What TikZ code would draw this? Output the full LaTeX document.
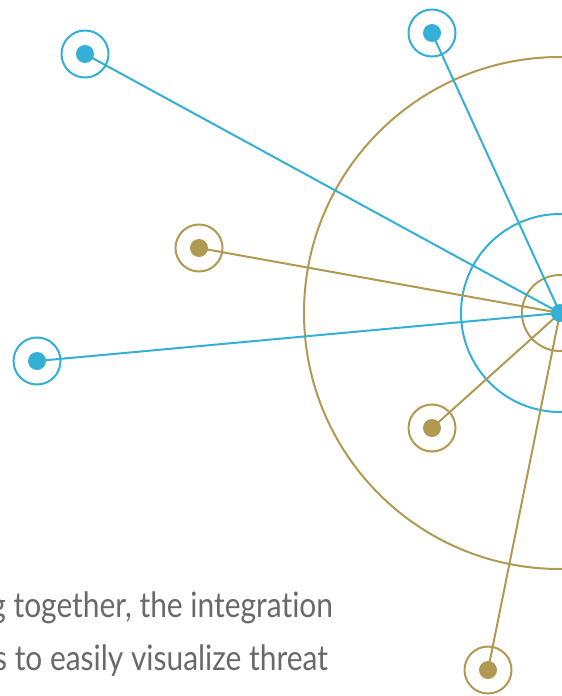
\documentclass[tikz,border=0pt]{standalone}
\usepackage{fontspec}
\setmainfont{Lato}
\newfontfamily\blurbfont[FakeStretch=0.855, Ligatures=NoCommon]{Lato}
\usepackage{tikz}

\definecolor{hubblue}{RGB}{52,176,214}
\definecolor{hubgold}{RGB}{176,154,82}
\definecolor{bodygray}{RGB}{105,105,105}

\begin{document}
\begin{tikzpicture}[x=1pt, y=-1pt, line width=2pt,
    dot/.style={circle, fill, inner sep=0pt, minimum size=18pt},
    ring/.style={circle, draw, fill=white, inner sep=0pt, minimum size=47pt},
    blurb/.style={anchor=base east, inner sep=0pt, text=bodygray, font=\blurbfont\fontsize{35}{40}\selectfont}]
\useasboundingbox (0,0) rectangle (562,696);
\clip (0,0) rectangle (562,696);

% Rings round the hub
\coordinate (c0) at (560,313);
\draw[hubgold] (c0) circle (256);
\draw[hubblue] (c0) circle (99);
\draw[hubgold] (c0) circle (38);

% Outer points: name/x/y/colour
\foreach \n/\x/\y/\c in {a/85/54/hubblue, b/432/33/hubblue, c/199/248/hubgold,
                          d/37/361/hubblue, e/432/428/hubgold, f/488/670/hubgold}
    \node[\c, ring] (r\n) at (\x,\y) {};

% Spokes from the hub
\foreach \n/\c in {a/hubblue, b/hubblue, c/hubgold, d/hubblue, e/hubgold, f/hubgold}
    \draw[\c] (c0) -- (r\n.center);

\foreach \n/\c in {a/hubblue, b/hubblue, c/hubgold, d/hubblue, e/hubgold, f/hubgold}
    \node[\c, dot] (\n) at (r\n) {};

% Hub
\node[hubblue, dot] (hub) at (c0) {};

% Text
\node[blurb] (line1) at (334,617) {g together, the integration};
\node[blurb] (line2) at (329,670) {s to easily visualize threat};

\end{tikzpicture}
\end{document}
